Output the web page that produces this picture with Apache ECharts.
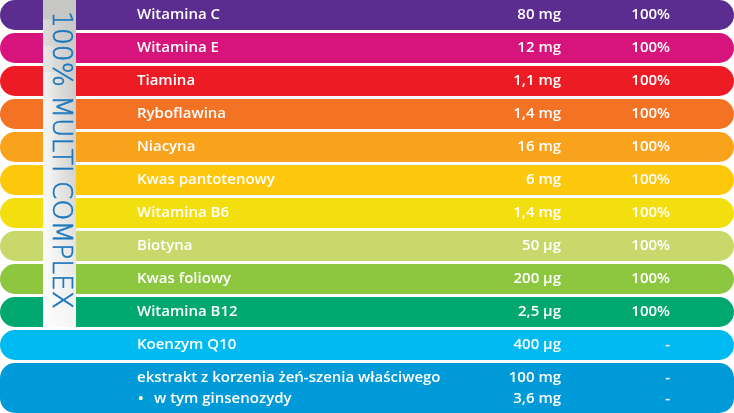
<!DOCTYPE html>
<html>
<head>
<meta charset="utf-8">
<script src="https://cdn.jsdelivr.net/npm/echarts@6/dist/echarts.min.js"></script>
<style>html,body{margin:0;padding:0;background:#fff;}#c{width:734px;height:413px;}</style>
</head>
<body>
<div id="c"></div>
<script>
const categories = ['Witamina C','Witamina E','Tiamina','Ryboflawina','Niacyna','Kwas pantotenowy','Witamina B6','Biotyna','Kwas foliowy','Witamina B12','Koenzym Q10','ekstrakt z korzenia żeń-szenia właściwego'];
const amounts = ['80 mg','12 mg','1,1 mg','1,4 mg','16 mg','6 mg','1,4 mg','50 µg','200 µg','2,5 µg','400 µg','100 mg'];
const percents = ['100%','100%','100%','100%','100%','100%','100%','100%','100%','100%','-','-'];
const subCategories = ['','','','','','','','','','','','w tym ginsenozydy'];
const subAmounts = ['','','','','','','','','','','','3,6 mg'];
const subPercents = ['','','','','','','','','','','','-'];
const colors = ['#5c2d91','#d7137c','#ed1c24','#f37224','#f9a31d','#fdc70c','#f3df0d','#c9d86b','#8dc63f','#00a870','#00baf2','#009ad9'];
const sideTitle = '100% MULTI COMPLEX';

const W = 734, H = 413;
const ROW_H = 30, LINE_EXTRA = 20, GAP = 3;
const rowTop = [], rowH = [];
let acc = 0;
categories.forEach((c, i) => {
  const h = ROW_H + (subCategories[i] ? LINE_EXTRA : 0);
  rowTop.push(acc); rowH.push(h);
  acc += h + GAP;
});
const total = acc - GAP;
const FONT = '600 15px "Open Sans", sans-serif';
const LABEL_X = 137, AMOUNT_X = 561, PCT_X = 670, LINE_STEP = 21;

function txt(x, y, s, align) {
  return { type: 'text', style: { x: x, y: y, text: s, fill: '#fff', font: FONT, textAlign: align, textVerticalAlign: 'middle' } };
}

const chart = echarts.init(document.getElementById('c'), null, { renderer: 'canvas' });
chart.setOption({
  animation: false,
  grid: { left: 0, right: 0, top: 0, bottom: 0 },
  xAxis: { type: 'value', min: 0, max: W, show: false },
  yAxis: { type: 'value', min: 0, max: total, inverse: true, show: false },
  series: [
    {
      type: 'custom',
      data: categories.map((c, i) => [i]),
      renderItem: function (params, api) {
        const i = api.value(0);
        const p0 = api.coord([0, rowTop[i]]);
        const p1 = api.coord([W, rowTop[i] + rowH[i]]);
        const h = p1[1] - p0[1];
        const children = [{
          type: 'rect',
          shape: { x: p0[0], y: p0[1], width: p1[0] - p0[0], height: h, r: 15 },
          style: { fill: colors[i] }
        }];
        const mid = (p0[1] + p1[1]) / 2;
        if (subCategories[i]) {
          const ya = mid - LINE_STEP / 2, yb = mid + LINE_STEP / 2;
          children.push(txt(LABEL_X, ya, categories[i], 'left'));
          children.push(txt(AMOUNT_X, ya, amounts[i], 'right'));
          children.push(txt(PCT_X, ya, percents[i], 'right'));
          children.push(txt(LABEL_X + 1, yb, '•', 'left'));
          children.push(txt(LABEL_X + 17, yb, subCategories[i], 'left'));
          children.push(txt(AMOUNT_X, yb, subAmounts[i], 'right'));
          children.push(txt(PCT_X, yb, subPercents[i], 'right'));
        } else {
          children.push(txt(LABEL_X, mid, categories[i], 'left'));
          children.push(txt(AMOUNT_X, mid, amounts[i], 'right'));
          children.push(txt(PCT_X, mid, percents[i], 'right'));
        }
        return { type: 'group', children: children };
      }
    },
    {
      type: 'custom',
      z: 5,
      data: [[0]],
      renderItem: function (params, api) {
        let last = 0;
        percents.forEach((p, i) => { if (p === '100%') last = i; });
        const p0 = api.coord([43, 0]);
        const p1 = api.coord([76, rowTop[last] + rowH[last]]);
        const w = p1[0] - p0[0], h = p1[1] - p0[1];
        const kids = [
          { type: 'rect', shape: { x: p0[0], y: p0[1], width: w, height: h },
            style: { fill: new echarts.graphic.LinearGradient(0, 0, 0, 1, [
              { offset: 0, color: '#c6c6c4' }, { offset: 0.5, color: '#d0d0ce' }, { offset: 1, color: '#f6f6f6' }]) } }
        ];
        [0.06, 0.14, 0.22, 0.30].forEach(f => {
          kids.push({ type: 'rect', shape: { x: p0[0], y: p0[1] + h * f, width: w, height: h * (1 - f) },
            style: { fill: new echarts.graphic.LinearGradient(0, 0, 1, 0, [
              { offset: 0, color: 'rgba(255,255,255,0.35)' }, { offset: 0.5, color: 'rgba(255,255,255,0.12)' }, { offset: 1, color: 'rgba(255,255,255,0)' }]) } });
        });
        kids.push({ type: 'text', x: p0[0] + w / 2 + 0.5, y: 160, rotation: -Math.PI / 2,
          style: { x: 0, y: 0, text: sideTitle, fill: '#1b76bc', stroke: '#1b76bc', lineWidth: 0.6, font: '200 26.5px "DejaVu Sans", sans-serif', textAlign: 'center', textVerticalAlign: 'middle' } });
        return { type: 'group', children: kids };
      }
    }
  ]
});
</script>
</body>
</html>
